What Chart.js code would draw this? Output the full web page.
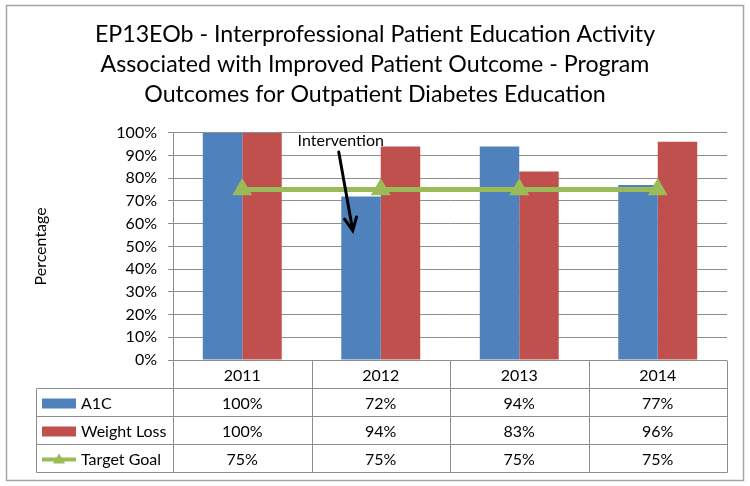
<!DOCTYPE html>
<html>
<head>
<meta charset="utf-8">
<script src="https://cdn.jsdelivr.net/npm/chart.js@4.4.0/dist/chart.umd.min.js"></script>
<style>
	html, body { margin: 0; padding: 0; background: #fff; }
	#wrap { width: 750px; height: 486px; position: relative; }
</style>
</head>
<body>
<div id="wrap"><canvas id="chart"></canvas></div>
<script>
const years = ['2011', '2012', '2013', '2014'];
const a1c = [100, 72, 94, 77];
const weightLoss = [100, 94, 83, 96];
const targetGoal = [75, 75, 75, 75];
const seriesNames = ['A1C', 'Weight Loss', 'Target Goal'];
const titleLines = [
	'EP13EOb - Interprofessional Patient Education Activity',
	'Associated with Improved Patient Outcome - Program',
	'Outcomes for Outpatient Diabetes Education'
];
const interventionLabel = 'Intervention';

const blueColor = '#4F81BD', redColor = '#C0504D', greenColor = '#9BBB59';
const gridColor = '#8e8e8e', borderColor = '#a6a6a6';
const fontFamily = 'Lato, "Liberation Sans", sans-serif';

// white background and the thin frame round the whole chart
const frame = {
	id: 'frame',
	beforeDraw: (chart) => {
		const { ctx, width, height } = chart;
		ctx.save();
		ctx.fillStyle = '#fff';
		ctx.fillRect(0, 0, width, height);
		ctx.strokeStyle = borderColor;
		ctx.lineWidth = 1.5;
		ctx.strokeRect(6.5, 5.5, width - 13, height - 11);
		ctx.restore();
	}
};

// data table under the plot, columns follow the x scale
const dataTable = {
	id: 'dataTable',
	afterDraw: (chart) => {
		const { ctx, chartArea: { left, right, bottom }, scales: { x } } = chart;
		const step = (right - left) / years.length;
		const rowH = 28;
		const tableLeft = 36.5;
		const rows = [
			{ label: seriesNames[0], values: a1c, color: blueColor, line: false },
			{ label: seriesNames[1], values: weightLoss, color: redColor, line: false },
			{ label: seriesNames[2], values: targetGoal, color: greenColor, line: true }
		];
		const top = Math.round(bottom) + 0.5;
		const tableBottom = top + rowH * (rows.length + 1);

		ctx.save();
		ctx.strokeStyle = gridColor;
		ctx.lineWidth = 1;
		ctx.beginPath();
		for (let r = 1; r <= rows.length + 1; r++) {
			const yy = top + rowH * r;
			ctx.moveTo(tableLeft, yy);
			ctx.lineTo(Math.round(right) + 0.5, yy);
		}
		ctx.moveTo(tableLeft, top + rowH);
		ctx.lineTo(tableLeft, tableBottom);
		for (let i = 0; i <= years.length; i++) {
			const xx = Math.round(left + step * i) + 0.5;
			ctx.moveTo(xx, top);
			ctx.lineTo(xx, tableBottom);
		}
		ctx.stroke();

		ctx.fillStyle = '#000';
		ctx.font = '16px ' + fontFamily;
		ctx.textBaseline = 'middle';
		ctx.textAlign = 'center';
		years.forEach((yr, i) => {
			ctx.fillText(yr, x.getPixelForValue(i), top + rowH / 2 + 1);
		});
		rows.forEach((row, r) => {
			const cy = top + rowH * (r + 1.5) + 1;
			row.values.forEach((v, i) => {
				ctx.textAlign = 'center';
				ctx.fillStyle = '#000';
				ctx.fillText(v + '%', x.getPixelForValue(i), cy);
			});
			// legend key
			if (row.line) {
				ctx.strokeStyle = row.color;
				ctx.lineWidth = 4;
				ctx.beginPath();
				ctx.moveTo(42, cy);
				ctx.lineTo(76, cy);
				ctx.stroke();
				ctx.fillStyle = row.color;
				ctx.beginPath();
				ctx.moveTo(59, cy - 6);
				ctx.lineTo(65, cy + 4);
				ctx.lineTo(53, cy + 4);
				ctx.closePath();
				ctx.fill();
			} else {
				ctx.fillStyle = row.color;
				ctx.fillRect(42, cy - 5, 34, 10);
			}
			ctx.fillStyle = '#000';
			ctx.textAlign = 'left';
			ctx.fillText(row.label, 81, cy);
		});
		ctx.restore();
	}
};

// "Intervention" note with the arrow pointing down at the 2012 A1C bar
const intervention = {
	id: 'intervention',
	afterDatasetsDraw: (chart) => {
		const { ctx, scales: { x, y } } = chart;
		const cx = x.getPixelForValue(1);
		const x0 = cx - 42, y0 = y.getPixelForValue(91.5);
		const x1 = cx - 28, y1 = y.getPixelForValue(57);
		ctx.save();
		ctx.fillStyle = '#000';
		ctx.font = '16px ' + fontFamily;
		ctx.textAlign = 'center';
		ctx.textBaseline = 'middle';
		ctx.fillText(interventionLabel, cx - 40, y.getPixelForValue(96.5));

		ctx.strokeStyle = '#000';
		ctx.lineWidth = 3;
		ctx.lineCap = 'round';
		ctx.beginPath();
		ctx.moveTo(x0, y0);
		ctx.lineTo(x1, y1);
		const ang = Math.atan2(y1 - y0, x1 - x0);
		const len = 14;
		ctx.moveTo(x1 - len * Math.cos(ang - 0.45), y1 - len * Math.sin(ang - 0.45));
		ctx.lineTo(x1, y1);
		ctx.lineTo(x1 - len * Math.cos(ang + 0.45), y1 - len * Math.sin(ang + 0.45));
		ctx.stroke();
		ctx.restore();
	}
};

Chart.defaults.font.family = fontFamily;
Chart.defaults.color = '#000';

new Chart(document.getElementById('chart'), {
	type: 'bar',
	data: {
		labels: years,
		datasets: [{
			type: 'line',
			label: seriesNames[2],
			data: targetGoal,
			borderColor: greenColor,
			backgroundColor: greenColor,
			borderWidth: 5,
			pointStyle: 'triangle',
			pointRadius: 6.5,
			pointHoverRadius: 6.5,
			order: 0
		}, {
			label: seriesNames[0],
			data: a1c,
			backgroundColor: blueColor,
			order: 1
		}, {
			label: seriesNames[1],
			data: weightLoss,
			backgroundColor: redColor,
			order: 1
		}]
	},
	options: {
		responsive: true,
		maintainAspectRatio: false,
		animation: false,
		categoryPercentage: 0.57,
		barPercentage: 1,
		layout: {
			padding: { left: 23, right: 23, top: 0, bottom: 126 }
		},
		plugins: {
			legend: { display: false },
			tooltip: { enabled: false },
			title: {
				display: true,
				text: titleLines,
				font: { size: 23.2, weight: 'normal', lineHeight: 1.29 },
				padding: { top: 20, bottom: 23 },
				color: '#000'
			}
		},
		scales: {
			x: {
				display: false
			},
			y: {
				min: 0,
				max: 100,
				ticks: {
					stepSize: 10,
					padding: 11,
					font: { size: 16 },
					callback: (v) => v + '%'
				},
				grid: {
					color: gridColor,
					tickLength: 5
				},
				border: { display: true, color: gridColor },
				title: {
					display: true,
					text: 'Percentage',
					font: { size: 16 },
					padding: { top: 8, bottom: 0 }
				},
				afterFit: (scale) => { scale.width = 150; }
			}
		}
	},
	plugins: [frame, dataTable, intervention]
});
</script>
</body>
</html>
